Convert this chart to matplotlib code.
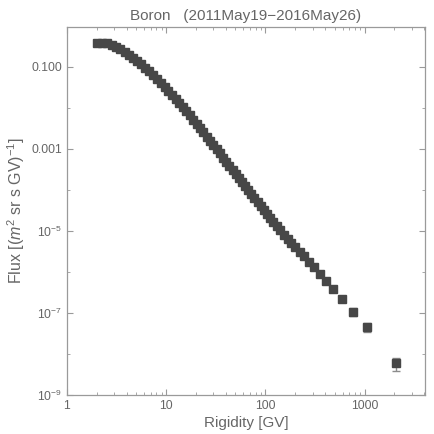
import numpy as np
import matplotlib
matplotlib.use("Agg")
import matplotlib.pyplot as plt
from matplotlib.ticker import FixedLocator, FixedFormatter, NullFormatter

plt.rcParams['font.family'] = ['Liberation Sans', 'DejaVu Sans']
plt.rcParams['mathtext.fontset'] = 'custom'
plt.rcParams['mathtext.rm'] = 'Liberation Sans'
plt.rcParams['mathtext.it'] = 'Liberation Sans:italic'

# rigidity bin centres [GV]
rigidity = [2.03, 2.27, 2.53, 2.82, 3.13, 3.46, 3.83, 4.22, 4.65, 5.12,
            5.63, 6.18, 6.77, 7.42, 8.11, 8.86, 9.67, 10.54, 11.49, 12.49,
            13.54, 14.69, 15.94, 17.29, 18.73, 20.28, 21.93, 23.73, 25.68, 27.73,
            29.93, 32.28, 34.78, 37.47, 40.37, 43.47, 46.77, 50.32, 54.11, 58.16,
            62.51, 67.21, 72.25, 77.65, 83.45, 89.69, 96.44, 103.9, 111.9, 120.4,
            129.9, 140.9, 153.4, 167.3, 183.3, 201.3, 221.7, 245.7, 274.5, 309.9,
            353.7, 408.8, 481.3, 588.6, 762.1, 1069.6, 2071.0]

# log10 of the flux [(m^2 sr s GV)^-1]
log_flux = [-0.415, -0.405, -0.426, -0.463, -0.512, -0.568, -0.631, -0.700, -0.773, -0.851,
            -0.933, -1.018, -1.107, -1.197, -1.290, -1.384, -1.481, -1.578, -1.678, -1.776,
            -1.873, -1.973, -2.075, -2.178, -2.281, -2.385, -2.487, -2.592, -2.698, -2.802,
            -2.905, -3.007, -3.108, -3.210, -3.312, -3.413, -3.514, -3.613, -3.713, -3.812,
            -3.910, -4.009, -4.107, -4.205, -4.302, -4.398, -4.495, -4.594, -4.691, -4.786,
            -4.883, -4.986, -5.092, -5.190, -5.290, -5.395, -5.505, -5.620, -5.745, -5.880,
            -6.040, -6.215, -6.410, -6.650, -6.975, -7.350, -8.230]

# relative errors
rel_err = [0.02] * 50 + [0.02, 0.02, 0.025, 0.025, 0.03, 0.03, 0.035, 0.035, 0.04, 0.04,
                         0.045, 0.05, 0.06, 0.09, 0.22, 0.24, 0.33]

flux = 10 ** np.array(log_flux)
err = flux * np.array(rel_err)

fig = plt.figure(figsize=(4.34, 4.34), dpi=100)
ax = fig.add_axes([0.154, 0.090, 0.825, 0.848])

ax.errorbar(rigidity, flux, yerr=err, fmt='none', ecolor='#8c8c8c',
            elinewidth=1.0, capsize=2.6, capthick=1.0, zorder=2)
ax.plot(rigidity, flux, 's', color='#474747', markersize=5.2, zorder=3)

ax.set_xscale('log')
ax.set_yscale('log')
ax.set_xlim(1, 4050)
ax.set_ylim(1e-9, 0.95)

gray = '#666666'
for s in ax.spines.values():
    s.set_color('#9a9a9a')
    s.set_linewidth(0.9)

ax.xaxis.set_major_locator(FixedLocator([1, 10, 100, 1000]))
ax.xaxis.set_major_formatter(FixedFormatter(['1', '10', '100', '1000']))
ax.xaxis.set_minor_locator(FixedLocator([m * 10 ** e for e in range(0, 4) for m in range(2, 10)]))
ax.xaxis.set_minor_formatter(NullFormatter())

ymaj = [1e-9, 1e-7, 1e-5, 1e-3, 1e-1]
ax.yaxis.set_major_locator(FixedLocator(ymaj))
ax.yaxis.set_major_formatter(FixedFormatter(['$10^{-9}$', '$10^{-7}$', '$10^{-5}$', '0.001', '0.100']))
ax.yaxis.set_minor_locator(FixedLocator([1e-8, 1e-6, 1e-4, 1e-2]))
ax.yaxis.set_minor_formatter(NullFormatter())

ax.tick_params(which='both', direction='in', top=True, right=True,
               colors='#9a9a9a', labelcolor=gray, labelsize=8.7)
ax.tick_params(which='major', length=4, width=0.8)
ax.tick_params(which='minor', length=2, width=0.6)

ax.set_xlabel('Rigidity [GV]', color=gray, fontsize=11, labelpad=3)
ax.set_ylabel('Flux [($m^2$ sr s GV)$^{-1}$]', color=gray, fontsize=11.5, labelpad=3)
ax.set_title('Boron   (2011May19\u22122016May26)', color=gray, fontsize=11, pad=5)

fig.savefig('out.png', dpi=100)
